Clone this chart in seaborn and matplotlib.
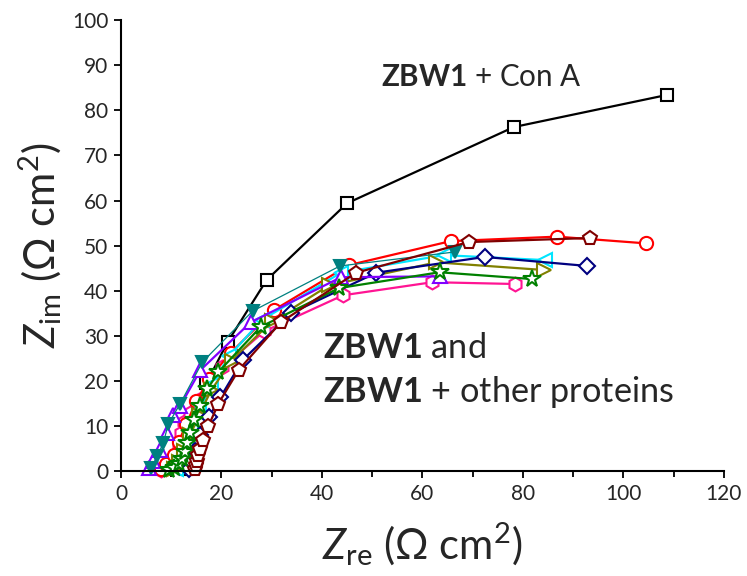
import matplotlib
matplotlib.use("Agg")
import matplotlib.pyplot as plt
from matplotlib.ticker import MultipleLocator
import pandas as pd
import seaborn as sns

# Nyquist data (Z_re, Z_im) in Ohm cm^2
conA_re = [13.0, 13.5, 14.0, 14.5, 15.2, 17.0, 21.2, 29.0, 45.0, 78.2, 108.6]
conA_im = [0.5, 2.0, 4.5, 8.5, 13.5, 19.5, 28.6, 42.4, 59.4, 76.3, 83.4]

pink_re = [8.0, 9.0, 10.0, 11.0, 11.5, 12.0, 12.6, 13.8, 15.6, 20.2, 28.5, 44.2, 62.0, 78.4]
pink_im = [0.3, 1.0, 2.0, 3.8, 6.0, 8.4, 10.8, 13.0, 15.7, 23.0, 31.0, 39.0, 41.9, 41.5]

red_re = [8.0, 9.0, 10.5, 11.5, 13.0, 15.0, 17.5, 21.8, 30.4, 45.4, 65.6, 86.8, 104.6]
red_im = [0.5, 1.5, 3.5, 6.5, 10.5, 15.5, 20.5, 26.2, 35.7, 45.7, 51.0, 52.0, 50.5]

cyan_re = [11.0, 12.0, 13.0, 14.0, 15.5, 18.0, 21.5, 28.0, 43.8, 64.2, 84.4]
cyan_im = [0.5, 2.0, 5.0, 9.0, 13.5, 19.0, 25.5, 33.5, 44.0, 47.9, 46.8]

olive_re = [10.5, 11.5, 12.5, 13.8, 15.5, 18.0, 22.0, 30.0, 41.4, 62.8, 84.2]
olive_im = [0.5, 2.0, 4.5, 8.0, 12.5, 18.0, 24.5, 33.2, 41.2, 46.3, 44.6]

navy_re = [13.5, 14.2, 14.8, 15.8, 17.5, 19.8, 24.2, 33.8, 50.8, 72.4, 92.8]
navy_im = [0.5, 2.0, 4.5, 8.0, 12.0, 16.4, 24.6, 35.0, 44.0, 47.5, 45.5]

purple_re = [5.6, 6.4, 7.8, 9.2, 10.4, 11.8, 15.8, 25.8, 43.8, 63.5]
purple_im = [0.8, 2.2, 4.7, 8.4, 12.4, 14.5, 22.4, 33.0, 43.0, 43.2]

teal_re = [6.0, 7.2, 8.4, 9.4, 11.8, 16.2, 26.2, 43.6, 66.4]
teal_im = [0.8, 3.3, 6.2, 10.4, 15.0, 24.2, 35.5, 45.5, 48.6]

green_re = [9.5, 10.5, 11.5, 12.2, 12.8, 13.2, 13.8, 14.6, 15.8, 17.2, 19.4, 27.8, 43.4, 63.4, 81.8]
green_im = [0.3, 0.8, 1.5, 2.6, 4.2, 6.2, 8.4, 11.3, 14.4, 18.2, 22.0, 32.0, 40.6, 44.1, 42.6]

maroon_re = [14.8, 15.0, 15.2, 15.4, 15.8, 16.4, 17.4, 19.4, 23.4, 31.8, 46.8, 69.2, 93.4]
maroon_im = [0.5, 1.3, 2.3, 3.5, 5.0, 6.8, 10.0, 15.0, 22.4, 33.0, 44.0, 50.8, 51.7]

# (name, x, y, colour, marker, filled, line width), in drawing order
series = [
    ("conA", conA_re, conA_im, "#000000", "s", False, 1.6),
    ("pink", pink_re, pink_im, "#ff1493", "h", False, 1.6),
    ("red", red_re, red_im, "#ff0000", "o", False, 1.6),
    ("cyan", cyan_re, cyan_im, "#00e5ff", "<", False, 1.6),
    ("olive", olive_re, olive_im, "#808000", ">", False, 1.6),
    ("navy", navy_re, navy_im, "#000080", "D", False, 1.6),
    ("purple", purple_re, purple_im, "#8000ff", "^", False, 1.6),
    ("teal", teal_re, teal_im, "#008080", "v", True, 0.9),
    ("green", green_re, green_im, "#008000", "*", False, 1.6),
    ("maroon", maroon_re, maroon_im, "#800000", "p", False, 1.6),
]

sns.set_theme(style="ticks")
plt.rcParams["font.family"] = ["Lato", "DejaVu Sans"]
plt.rcParams["mathtext.fontset"] = "custom"
plt.rcParams["mathtext.rm"] = "Lato"
plt.rcParams["mathtext.it"] = "Lato:italic"
plt.rcParams["mathtext.bf"] = "Lato:bold"

fig = plt.figure(figsize=(7.47, 5.76), dpi=100)
ax = fig.add_axes([0.162, 0.182, 0.807, 0.783])

msize = {"h": 10, "o": 9.5, "<": 10, ">": 10, "D": 8.5, "^": 10, "v": 9,
         "*": 13, "p": 10.5, "s": 8.5}

for name, xs, ys, col, mk, filled, lw in series:
    df = pd.DataFrame({"Zre": xs, "Zim": ys})
    sns.lineplot(data=df, x="Zre", y="Zim", ax=ax, sort=False, estimator=None,
                 color=col, linewidth=lw, marker=mk, markersize=msize[mk],
                 markerfacecolor=col if filled else "white",
                 markeredgecolor=col, markeredgewidth=1.5, clip_on=False)

ax.set_xlim(0, 120)
ax.set_ylim(0, 100)
ax.xaxis.set_major_locator(MultipleLocator(20))
ax.xaxis.set_minor_locator(MultipleLocator(10))
ax.yaxis.set_major_locator(MultipleLocator(10))
ax.tick_params(axis="both", which="major", direction="out", length=5, width=1.3,
               labelsize=15, color="black", pad=4)
ax.tick_params(axis="x", which="minor", direction="out", length=4, width=1.3,
               color="black")
for s in ("top", "right"):
    ax.spines[s].set_visible(False)
for s in ("left", "bottom"):
    ax.spines[s].set_linewidth(1.5)
    ax.spines[s].set_color("black")

ax.set_xlabel(r"$\mathit{Z}_{\mathrm{re}}$ ($\Omega$ cm$^{2}$)", fontsize=30, labelpad=12)
ax.set_ylabel(r"$\mathit{Z}_{\mathrm{im}}$ ($\Omega$ cm$^{2}$)", fontsize=30, labelpad=6)

ax.text(51.8, 87.5, r"$\mathbf{ZBW1}$ + Con A", fontsize=21.3, ha="left", va="center")
ax.text(40.2, 27.3, r"$\mathbf{ZBW1}$ and", fontsize=24.7, ha="left", va="center")
ax.text(40.2, 17.6, r"$\mathbf{ZBW1}$ + other proteins", fontsize=24.7, ha="left", va="center")

fig.savefig("out.png", dpi=100)
